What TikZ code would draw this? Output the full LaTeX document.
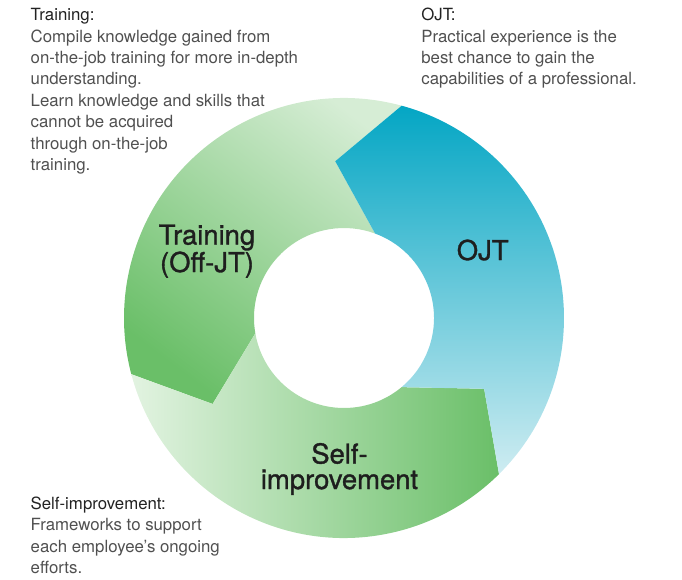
\documentclass[tikz,border=0pt]{standalone}
\usepackage{fontspec}
\setmainfont{TeX Gyre Heros}
\newfontfamily\labfont[FakeBold=1.2]{TeX Gyre Heros}
\definecolor{ojtTop}{RGB}{4,166,196}
\definecolor{ojtBot}{RGB}{206,236,241}
\definecolor{grDark}{RGB}{106,191,104}
\definecolor{grLight}{RGB}{226,243,225}
\definecolor{grTop}{RGB}{214,237,213}
\definecolor{headc}{RGB}{34,34,34}
\definecolor{bodyc}{RGB}{80,80,80}
\definecolor{labc}{RGB}{30,30,30}
\begin{document}
\begin{tikzpicture}[x=1pt,y=1pt,
  desc/.style={font=\fontsize{16.8}{21.4}\selectfont, text=bodyc, inner sep=0pt, align=left, anchor=base west},
  biglab/.style={font=\labfont\fontsize{27.4}{25.5}\selectfont, text=labc, inner sep=0pt, align=center, anchor=base}]
\useasboundingbox (-344,-261) rectangle (338,318);
% Training (Off-JT)
\shade[top color=grTop, bottom color=grDark, shading angle=-37]
  (74.8:220pt) arc[start angle=74.8,end angle=194.8,radius=220pt] -- (213.2:157pt)
  -- (189.8:90pt) arc[start angle=189.8,end angle=69.8,radius=90pt] -- (93.2:157pt) -- cycle;
% Self-improvement
\shade[top color=grLight, bottom color=grDark, shading angle=90]
  (194.8:220pt) arc[start angle=194.8,end angle=314.8,radius=220pt] -- (333.2:157pt)
  -- (309.8:90pt) arc[start angle=309.8,end angle=189.8,radius=90pt] -- (213.2:157pt) -- cycle;
% OJT
\shade[top color=ojtTop, bottom color=ojtBot]
  (314.8:220pt) arc[start angle=314.8,end angle=434.8,radius=220pt] -- (453.2:157pt)
  -- (429.8:90pt) arc[start angle=429.8,end angle=309.8,radius=90pt] -- (333.2:157pt) -- cycle;
% big labels (anchor = baseline of last line)
\node[biglab] (trlab) at (-137,46) {Training\\(Off-JT)};
\node[biglab] (ojtlab) at (138.7,58) {OJT};
\node[biglab] (selflab) at (-4.5,-171) {Self-\\improvement};
% descriptions (anchor = baseline of last line)
\node[desc] (trdesc) at (-313.5,147.5) {\textcolor{headc}{Training:}\\Compile knowledge gained from\\on-the-job training for more in-depth\\understanding.\\Learn knowledge and skills that\\cannot be acquired\\through on-the-job\\training.};
\node[desc] (ojtdesc) at (77.2,233.1) {\textcolor{headc}{OJT:}\\Practical experience is the\\best chance to gain the\\capabilities of a professional.};
\node[desc] (selfdesc) at (-313.5,-255.5) {\textcolor{headc}{Self-improvement:}\\Frameworks to support\\each employee’s ongoing\\efforts.};
\end{tikzpicture}
\end{document}
